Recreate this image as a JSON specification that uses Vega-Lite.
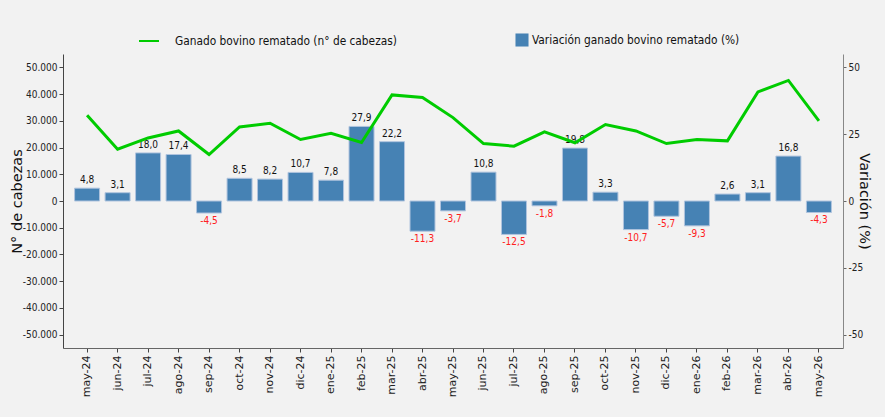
{
  "$schema": "https://vega.github.io/schema/vega-lite/v6.json",
  "width": 780,
  "height": 294,
  "autosize": {"type": "none"},
  "padding": {"left": 63, "top": 54, "right": 42, "bottom": 69},
  "background": "#f2f2f2",
  "config": {
    "view": {"stroke": null, "fill": "#f2f2f2"},
    "font": "DejaVu Sans",
    "locale": {"number": {"decimal": ",", "thousands": ".", "grouping": [3], "currency": ["$", ""], "minus": "-"}}
  },
  "data": {
    "values": [
      {"mes": "may-24", "cabezas": 32100, "var": 4.8},
      {"mes": "jun-24", "cabezas": 19400, "var": 3.1},
      {"mes": "jul-24", "cabezas": 23600, "var": 18.0},
      {"mes": "ago-24", "cabezas": 26200, "var": 17.4},
      {"mes": "sep-24", "cabezas": 17400, "var": -4.5},
      {"mes": "oct-24", "cabezas": 27700, "var": 8.5},
      {"mes": "nov-24", "cabezas": 29100, "var": 8.2},
      {"mes": "dic-24", "cabezas": 23000, "var": 10.7},
      {"mes": "ene-25", "cabezas": 25300, "var": 7.8},
      {"mes": "feb-25", "cabezas": 21900, "var": 27.9},
      {"mes": "mar-25", "cabezas": 39700, "var": 22.2},
      {"mes": "abr-25", "cabezas": 38700, "var": -11.3},
      {"mes": "may-25", "cabezas": 31200, "var": -3.7},
      {"mes": "jun-25", "cabezas": 21500, "var": 10.8},
      {"mes": "jul-25", "cabezas": 20500, "var": -12.5},
      {"mes": "ago-25", "cabezas": 25900, "var": -1.8},
      {"mes": "sep-25", "cabezas": 21800, "var": 19.8},
      {"mes": "oct-25", "cabezas": 28600, "var": 3.3},
      {"mes": "nov-25", "cabezas": 26200, "var": -10.7},
      {"mes": "dic-25", "cabezas": 21500, "var": -5.7},
      {"mes": "ene-26", "cabezas": 23000, "var": -9.3},
      {"mes": "feb-26", "cabezas": 22500, "var": 2.6},
      {"mes": "mar-26", "cabezas": 40800, "var": 3.1},
      {"mes": "abr-26", "cabezas": 45100, "var": 16.8},
      {"mes": "may-26", "cabezas": 30000, "var": -4.3}
    ]
  },
  "encoding": {
    "x": {
      "field": "mes", "type": "nominal", "sort": null,
      "scale": {"paddingInner": 0.18, "paddingOuter": 0.38},
      "axis": {
        "title": null, "labelAngle": -90, "labelFontSize": 11, "labelFont": "DejaVu Sans",
        "labelColor": "#222", "domainColor": "#666", "tickColor": "#444", "tickSize": 4, "labelPadding": 3
      }
    }
  },
  "layer": [
    {
      "encoding": {
        "y": {
          "field": "var", "type": "quantitative",
          "scale": {"domain": [-55, 55], "nice": false, "zero": false},
          "axis": {
            "orient": "right", "values": [-50, -25, 0, 25, 50], "grid": false,
            "title": "Variación (%)", "titleFontSize": 14.5, "titleFontWeight": "normal", "titleColor": "#111",
            "titleFont": "DejaVu Sans", "titlePadding": -6,
            "labelFont": "DejaVu Sans Condensed, DejaVu Sans", "labelFontSize": 10, "labelColor": "#222",
            "domainColor": "#888", "tickColor": "#666", "tickSize": 3, "labelPadding": 2
          }
        }
      },
      "layer": [
        {
          "mark": {"type": "bar", "stroke": "#b0c4de", "strokeWidth": 1},
          "encoding": {
            "fill": {
              "datum": "Variación ganado bovino rematado (%)",
              "scale": {"range": ["#4682b4"]},
              "legend": {
                "title": null, "orient": "none", "legendX": 452, "legendY": -21, "padding": 0,
                "symbolType": "square", "symbolSize": 170, "symbolStrokeWidth": 0, "labelOffset": 3, "labelLimit": 0,
                "labelFont": "DejaVu Sans Condensed, DejaVu Sans", "labelFontSize": 11.8, "labelColor": "#111"
              }
            }
          }
        },
        {
          "transform": [{"filter": "datum.var >= 0"}],
          "mark": {"type": "text", "baseline": "bottom", "dy": -3, "font": "DejaVu Sans Condensed, DejaVu Sans", "fontSize": 10, "color": "#111"},
          "encoding": {"text": {"field": "var", "type": "quantitative", "format": ".1f"}}
        },
        {
          "transform": [{"filter": "datum.var < 0"}],
          "mark": {"type": "text", "baseline": "top", "dy": 3, "font": "DejaVu Sans Condensed, DejaVu Sans", "fontSize": 10, "color": "#ff2020"},
          "encoding": {"text": {"field": "var", "type": "quantitative", "format": ".1f"}}
        }
      ]
    },
    {
      "mark": {"type": "line", "strokeWidth": 3},
      "encoding": {
        "y": {
          "field": "cabezas", "type": "quantitative",
          "scale": {"domain": [-55000, 55000], "nice": false, "zero": false},
          "axis": {
            "orient": "left", "values": [-50000, -40000, -30000, -20000, -10000, 0, 10000, 20000, 30000, 40000, 50000],
            "format": ",.0f", "grid": false,
            "title": "N° de cabezas", "titleFontSize": 14.5, "titleFontWeight": "normal", "titleColor": "#111",
            "titleFont": "DejaVu Sans", "titlePadding": -2,
            "labelFont": "DejaVu Sans Condensed, DejaVu Sans", "labelFontSize": 10, "labelColor": "#222",
            "domainColor": "#444", "tickColor": "#444", "tickSize": 4, "labelPadding": 2
          }
        },
        "stroke": {
          "datum": "Ganado bovino rematado (n° de cabezas)",
          "scale": {"range": ["#00cc00"]},
          "legend": {
            "title": null, "orient": "none", "legendX": 75, "legendY": -24, "padding": 0,
            "symbolType": "stroke", "symbolSize": 400, "symbolStrokeWidth": 2, "labelOffset": 15, "labelLimit": 0,
            "labelFont": "DejaVu Sans Condensed, DejaVu Sans", "labelFontSize": 11.8, "labelColor": "#111"
          }
        }
      }
    }
  ],
  "resolve": {"scale": {"y": "independent", "fill": "independent", "stroke": "independent"}}
}
